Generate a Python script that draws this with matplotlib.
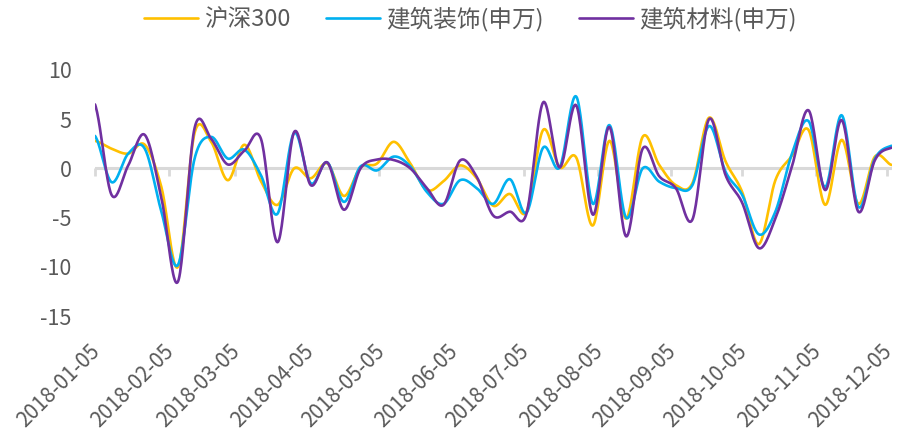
import numpy as np
import pandas as pd
import matplotlib
matplotlib.use('Agg')
import matplotlib.pyplot as plt
import matplotlib.dates as mdates

plt.rcParams['font.family'] = ['Noto Sans CJK SC', 'DejaVu Sans']
plt.rcParams['axes.unicode_minus'] = False

# weekly returns (%), every Friday of 2018
dates = pd.date_range('2018-01-05', periods=49, freq='7D')

hs300 = [2.8, 2.0, 1.5, 2.4, -1.9, -10.0, 3.6, 2.7, -1.2, 2.4,
         -1.3, -3.7, 0.0, -1.0, 0.5, -2.8, 0.1, 0.5, 2.7, 0.5,
         -2.2, -1.3, 0.3, -1.0, -3.8, -2.6, -4.4, 3.9, 0.1, 1.1,
         -5.8, 2.8, -5.1, 3.2, 0.35, -1.7, -1.5, 5.15, 0.7, -2.4,
         -7.7, -1.2, 1.3, 3.9, -3.7, 2.9, -3.6, 1.2, 0.35]

decoration = [3.3, -1.4, 1.5, 2.0, -4.4, -9.8, 1.0, 3.2, 1.0, 1.9,
              -0.7, -4.6, 3.6, -1.5, 0.6, -3.4, 0.2, -0.2, 1.2, 0.2,
              -2.4, -3.6, -1.2, -2.0, -3.6, -1.1, -4.5, 2.1, 0.1, 7.3,
              -3.6, 4.4, -5.0, 0.0, -1.35, -2.0, -1.7, 4.3, -0.35, -2.7,
              -6.7, -4.4, 1.5, 4.8, -1.9, 5.4, -3.9, 1.0, 2.3]

materials = [6.5, -2.7, 0.3, 3.4, -3.0, -11.5, 4.1, 3.0, 0.4, 1.8,
             3.0, -7.5, 3.7, -1.7, 0.6, -4.2, 0.0, 0.9, 0.85, 0.0,
             -2.0, -3.7, 0.8, -0.85, -4.8, -4.4, -4.6, 6.7, 0.1, 6.4,
             -4.7, 4.2, -6.9, 2.0, -0.8, -2.0, -5.2, 5.0, -0.7, -3.5,
             -8.1, -5.1, 0.2, 5.9, -2.2, 4.9, -4.4, 0.85, 2.1]

labels = ['沪深300', '建筑装饰(申万)', '建筑材料(申万)']
colors = ['#FFC000', '#00B0F0', '#7030A0']

tick_dates = pd.date_range('2018-01-01', periods=12, freq='MS') + pd.Timedelta(days=4)


def smooth(x, y, n=24):
    # Catmull-Rom like smoothing, similar to Excel's smoothed line
    x = np.asarray(x, float)
    y = np.asarray(y, float)
    px = np.concatenate([[2 * x[0] - x[1]], x, [2 * x[-1] - x[-2]]])
    py = np.concatenate([[y[0]], y, [y[-1]]])
    t = np.linspace(0, 1, n, endpoint=False)
    xs, ys = [], []
    for i in range(1, len(px) - 2):
        p0, p1, p2, p3 = py[i - 1], py[i], py[i + 1], py[i + 2]
        c1 = p1 + (p2 - p0) / 6
        c2 = p2 - (p3 - p1) / 6
        ys.append((1 - t) ** 3 * p1 + 3 * (1 - t) ** 2 * t * c1
                  + 3 * (1 - t) * t ** 2 * c2 + t ** 3 * p2)
        xs.append(px[i] + (px[i + 1] - px[i]) * t)
    xs.append([x[-1]])
    ys.append([y[-1]])
    return np.concatenate(xs), np.concatenate(ys)


fig = plt.figure(figsize=(8.99, 4.32), dpi=100)
ax = fig.add_axes([0.1057, 0.2685, 0.886, 0.5695])

xnum = mdates.date2num(dates)
for vals, lab, c in zip([hs300, decoration, materials], labels, colors):
    sx, sy = smooth(xnum, vals)
    ax.plot(sx, sy, color=c, lw=1.9, label=lab, solid_capstyle='round')

ax.set_xlim(xnum[0], xnum[-1])
ax.set_ylim(-15, 10)
ax.set_yticks([-15, -10, -5, 0, 5, 10])
ax.tick_params(axis='y', length=0, pad=17, labelsize=15.5, labelcolor='#595959')

ax.set_xticks(mdates.date2num(tick_dates))
ax.set_xticklabels([d.strftime('%Y-%m-%d') for d in tick_dates])
ax.tick_params(axis='x', length=0, pad=22, labelsize=15, labelcolor='#595959')
for lbl in ax.get_xticklabels():
    lbl.set_rotation(45)
    lbl.set_ha('right')
    lbl.set_va('center_baseline')
    lbl.set_rotation_mode('anchor')

for s in ax.spines.values():
    s.set_visible(False)

# zero axis line with tick marks pointing down
ax.axhline(0, color='#D9D9D9', lw=2.2, zorder=0)
sec = ax.secondary_xaxis(0.6)
sec.set_xticks(mdates.date2num(tick_dates))
sec.set_xticklabels([])
sec.tick_params(axis='x', length=6, width=2, color='#D9D9D9', direction='in')
for s in sec.spines.values():
    s.set_visible(False)

fig.legend(loc='center', bbox_to_anchor=(0.523, 0.957), ncol=3, frameon=False,
           fontsize=17, handlelength=2.3, handletextpad=0.25, columnspacing=1.5,
           labelcolor='#595959')

fig.savefig('out.png', dpi=100)
